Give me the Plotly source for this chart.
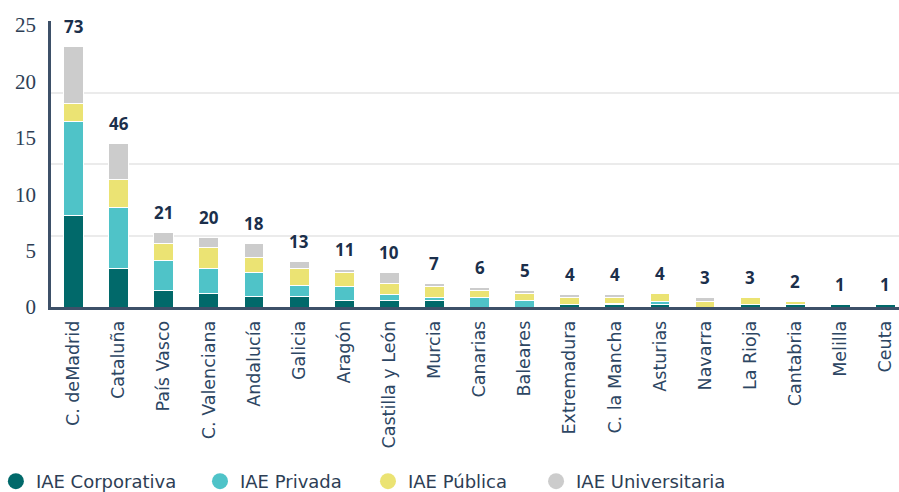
import plotly.graph_objects as go

regions = ["C. deMadrid", "Cataluña", "País Vasco", "C. Valenciana", "Andalucía", "Galicia",
           "Aragón", "Castilla y León", "Murcia", "Canarias", "Baleares", "Extremadura",
           "C. la Mancha", "Asturias", "Navarra", "La Rioja", "Cantabria", "Melilla", "Ceuta"]
totals = [73, 46, 21, 20, 18, 13, 11, 10, 7, 6, 5, 4, 4, 4, 3, 3, 2, 1, 1]

corporativa   = [8.1, 3.4, 1.5, 1.2, 0.9, 0.9, 0.55, 0.55, 0.55, 0.0, 0.0, 0.2, 0.18, 0.22, 0.0, 0.2, 0.2, 0.18, 0.18]
privada       = [8.3, 5.4, 2.6, 2.2, 2.2, 1.0, 1.25, 0.6, 0.3, 0.85, 0.55, 0.0, 0.12, 0.25, 0.0, 0.0, 0.0, 0.0, 0.0]
publica       = [1.6, 2.5, 1.5, 1.9, 1.25, 1.55, 1.3, 0.95, 0.95, 0.6, 0.62, 0.62, 0.52, 0.7, 0.47, 0.62, 0.3, 0.0, 0.0]
universitaria = [5.1, 3.2, 1.0, 0.9, 1.25, 0.6, 0.25, 0.95, 0.3, 0.3, 0.3, 0.25, 0.33, 0.0, 0.33, 0.0, 0.0, 0.0, 0.0]

series = [
    ("IAE Corporativa", corporativa, "#01696a"),
    ("IAE Privada", privada, "#4fc3c8"),
    ("IAE Pública", publica, "#ebe373"),
    ("IAE Universitaria", universitaria, "#cccccc"),
]
legend_ids = ["legend", "legend2", "legend3", "legend4"]
legend_x = [-0.065, 0.1757, 0.3738, 0.572]

fig = go.Figure()
for name, vals, col in series:
    fig.add_trace(go.Bar(x=regions, y=vals, name=name, marker_color=col,
                         marker_line_color="white", marker_line_width=1,
                         showlegend=False, hoverinfo="skip"))
for (name, vals, col), lid in zip(series, legend_ids):
    fig.add_trace(go.Scatter(x=[None], y=[None], mode="markers", name=name, legend=lid,
                             marker=dict(symbol="circle", size=18, color=col)))

stack_tops = [sum(v) for v in zip(corporativa, privada, publica, universitaria)]
for reg, top, tot in zip(regions, stack_tops, totals):
    fig.add_annotation(x=reg, y=top, text=str(tot), showarrow=False, yshift=20,
                       font=dict(family="Noto Sans", size=17, color="#1b2f4b", weight="bold"))

# invisible trace to carry the grid axis
fig.add_trace(go.Scatter(x=regions, y=totals, yaxis="y2", mode="markers",
                         marker=dict(opacity=0), showlegend=False, hoverinfo="skip"))

legend_style = dict(orientation="h", xanchor="left", y=-0.61, yanchor="middle",
                    font=dict(family="DejaVu Sans", size=18, color="#2d3e55"),
                    itemwidth=30, bgcolor="rgba(0,0,0,0)")

fig.update_layout(
    barmode="stack",
    width=899, height=492,
    margin=dict(l=51, r=0, t=21, b=185, autoexpand=False),
    plot_bgcolor="white", paper_bgcolor="white",
    bargap=0.56,
    xaxis=dict(range=[-0.5, 18.3], tickangle=-90, showline=True, linecolor="#3d5068", linewidth=2.5,
               ticks="", ticklabelstandoff=4,
               tickfont=dict(family="DejaVu Sans", size=17.5, color="#2d4663"),
               showgrid=False, zeroline=False, automargin=False),
    yaxis=dict(range=[0, 25.35], dtick=5, showline=True, linecolor="#3d5068", linewidth=2.5,
               showgrid=False, zeroline=False, ticks="", ticklabelstandoff=8, automargin=False,
               tickfont=dict(family="Liberation Serif", size=21, color="#2d3e55")),
    yaxis2=dict(range=[0, 80], dtick=20, overlaying="y", side="right", showgrid=True,
                gridcolor="#ebebeb", gridwidth=1.5, showticklabels=False, zeroline=False,
                showline=False, ticks="", automargin=False),
)
for lid, lx in zip(legend_ids, legend_x):
    fig.update_layout({lid: dict(legend_style, x=lx)})

fig.write_html("out.html", config={"displayModeBar": False},
               post_script="document.body.style.margin='0';")
